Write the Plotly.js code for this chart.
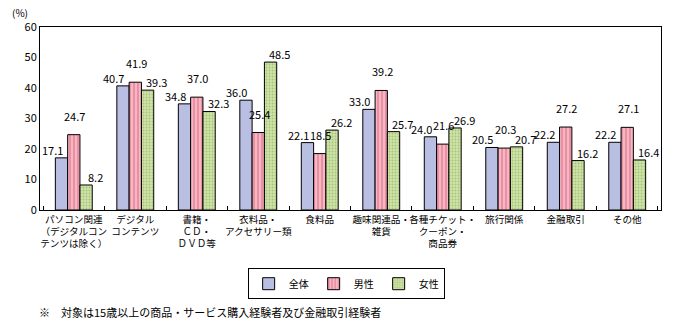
<!DOCTYPE html>
<html><head><meta charset="utf-8">
<script src="https://cdn.plot.ly/plotly-3.0.1.min.js"></script>
<style>body{margin:0;background:#fff}#c{width:673px;height:330px}</style>
</head><body><div id="c"></div>
<script>
const categories = [
  "パソコン関連<br>（デジタルコン<br>テンツは除く）",
  "デジタル<br>コンテンツ",
  "書籍・<br>ＣＤ・<br>ＤＶＤ等",
  "衣料品・<br>アクセサリー類",
  "食料品",
  "趣味関連品・<br>雑貨",
  "各種チケット・<br>クーポン・<br>商品券",
  "旅行関係",
  "金融取引",
  "その他"
];
const seriesNames = ["全体", "男性", "女性"];
const total  = [17.1, 40.7, 34.8, 36.0, 22.1, 33.0, 24.0, 20.5, 22.2, 22.2];
const male   = [24.7, 41.9, 37.0, 25.4, 18.5, 39.2, 21.6, 20.3, 27.2, 27.1];
const female = [8.2, 39.3, 32.3, 48.5, 26.2, 25.7, 26.9, 20.7, 16.2, 16.4];
const yTicks = [0, 10, 20, 30, 40, 50, 60];

const F = "'Noto Sans CJK JP', 'Noto Sans', sans-serif";
const series = [total, male, female];
const fills = ["#b8bfe2", "#f6a9b8", "#c4dc98"];
const patterns = [
  {shape: ""},
  {shape: "|", fgcolor: "#e0788f", bgcolor: "#f8b6c3", size: 4, solidity: 0.3, fillmode: "replace"},
  {shape: ".", fgcolor: "#a6c574", bgcolor: "#cfe3aa", size: 3, solidity: 0.3, fillmode: "replace"}
];

const traces = series.map((vals, s) => ({
  type: "bar",
  name: seriesNames[s],
  x: categories,
  y: vals,
  marker: {color: fills[s], line: {color: "#000", width: 1}, pattern: patterns[s]},
  hoverinfo: "none"
}));

const bargap = 0.4;
const bw = (1 - bargap) / 3;
const xOff = [-bw, 0, bw];
const xShift = [-9, 1, 9];
const yShift = [-2, 9, -2];
const annotations = [];
series.forEach((vals, s) => {
  vals.forEach((v, i) => {
    annotations.push({
      x: i + xOff[s], y: v, xref: "x", yref: "y",
      text: v.toFixed(1), showarrow: false,
      xanchor: "center", yanchor: "bottom",
      xshift: xShift[s], yshift: yShift[s],
      font: {family: F, size: 11, color: "#000"}
    });
  });
});
annotations.push({
  xref: "paper", yref: "paper", x: -0.032, y: 1.025, xanchor: "center", yanchor: "bottom",
  text: "(%)", showarrow: false, font: {family: F, size: 10, color: "#000"}
});
annotations.push({
  xref: "paper", yref: "paper", x: -0.005, y: -0.56, xanchor: "left", yanchor: "middle",
  text: "※　対象は15歳以上の商品・サービス購入経験者及び金融取引経験者", showarrow: false,
  font: {family: F, size: 11, color: "#000"}
});

const layout = {
  width: 673, height: 330,
  margin: {l: 40, r: 12, t: 27, b: 120},
  paper_bgcolor: "#fff", plot_bgcolor: "#fff",
  barmode: "group", bargap: bargap, bargroupgap: 0,
  font: {family: F, size: 11, color: "#000"},
  showlegend: true,
  legend: {
    orientation: "h", x: 0.493, xanchor: "center", y: -0.318, yanchor: "top",
    bordercolor: "#000", borderwidth: 1, bgcolor: "#fff",
    font: {family: F, size: 10, color: "#000"},
    itemwidth: 30, traceorder: "normal"
  },
  xaxis: {
    type: "category", showline: true, linecolor: "#000", linewidth: 1, mirror: true,
    ticks: "inside", tickson: "boundaries", ticklen: 4, tickcolor: "#000",
    tickangle: 0, automargin: false,
    tickfont: {family: F, size: 9.6, color: "#000"}, showgrid: false, fixedrange: true
  },
  yaxis: {
    range: [0, 60], tickvals: yTicks, ticktext: yTicks.map(String),
    showline: true, linecolor: "#000", linewidth: 1, mirror: true,
    ticks: "", showgrid: false, zeroline: false, automargin: false,
    tickfont: {family: F, size: 11, color: "#000"}, fixedrange: true
  },
  annotations: annotations
};

Plotly.newPlot("c", traces, layout, {displayModeBar: false, staticPlot: true});
</script></body></html>
